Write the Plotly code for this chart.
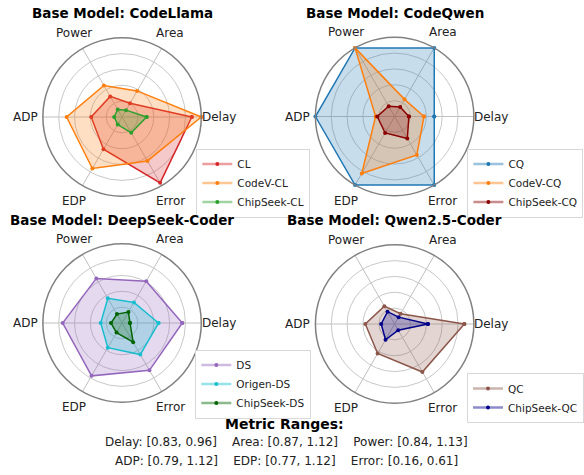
import math
import plotly.graph_objects as go

metrics = ["Delay", "Area", "Power", "ADP", "EDP", "Error"]
angles = [0, 60, 120, 180, 240, 300]

# Panel 1: CodeLlama
cl = [0.88, 0.20, 0.30, 0.39, 0.47, 0.96]
codev_cl = [1.00, 0.38, 0.46, 0.70, 0.75, 0.64]
chipseek_cl = [0.31, 0.10, 0.11, 0.10, 0.11, 0.23]
# Panel 2: CodeQwen
cq = [0.50, 1.00, 1.00, 1.00, 1.00, 1.00]
codev_cq = [0.37, 0.25, 1.00, 0.24, 0.83, 0.56]
chipseek_cq = [0.18, 0.14, 0.15, 0.22, 0.24, 0.32]
# Panel 3: DeepSeek-Coder
ds = [0.76, 0.61, 0.65, 0.75, 0.77, 0.69]
origen_ds = [0.46, 0.30, 0.36, 0.27, 0.36, 0.46]
chipseek_ds = [0.10, 0.16, 0.13, 0.14, 0.14, 0.28]
# Panel 4: Qwen2.5-Coder
qc = [0.88, 0.15, 0.26, 0.37, 0.43, 0.70]
chipseek_qc = [0.42, 0.10, 0.18, 0.17, 0.23, 0.09]

titles = ["Base Model: CodeLlama", "Base Model: CodeQwen",
          "Base Model: DeepSeek-Coder", "Base Model: Qwen2.5-Coder"]

range_lines = [
    ["Delay: [0.83, 0.96]", "Area: [0.87, 1.12]", "Power: [0.84, 1.13]"],
    ["ADP: [0.79, 1.12]", "EDP: [0.77, 1.12]", "Error: [0.16, 0.61]"],
]

panels = [
    [("CL", cl, "#d62728"), ("CodeV-CL", codev_cl, "#ff7f0e"), ("ChipSeek-CL", chipseek_cl, "#2ca02c")],
    [("CQ", cq, "#1f77b4"), ("CodeV-CQ", codev_cq, "#ff7f0e"), ("ChipSeek-CQ", chipseek_cq, "#8b0000")],
    [("DS", ds, "#9467bd"), ("Origen-DS", origen_ds, "#17becf"), ("ChipSeek-DS", chipseek_ds, "#006400")],
    [("QC", qc, "#8c564b"), ("ChipSeek-QC", chipseek_qc, "#00008b")],
]

W, H = 584, 475
centers = [(122.5, 117), (396, 116.5), (122.5, 323), (396, 324)]
R = 79.5
# legend left edge, vertical centre (pixels)
legend_pos = [(197, 183), (469, 183), (196, 384), (469, 398)]

FONT = "DejaVu Sans"

def rgba(hexc, a):
    hexc = hexc.lstrip("#")
    r, g, b = int(hexc[0:2], 16), int(hexc[2:4], 16), int(hexc[4:6], 16)
    return f"rgba({r},{g},{b},{a})"

fig = go.Figure()
layout = dict(width=W, height=H, margin=dict(l=0, r=0, t=0, b=0),
              paper_bgcolor="white", plot_bgcolor="white", showlegend=True)
annotations = []

for i, series in enumerate(panels):
    pid = "polar" if i == 0 else f"polar{i+1}"
    lid = "legend" if i == 0 else f"legend{i+1}"
    for name, vals, col in series:
        r = list(vals) + [vals[0]]
        th = angles + [angles[0]]
        fig.add_trace(go.Scatterpolar(r=r, theta=th, subplot=pid, mode="none",
                                      fill="toself", fillcolor=rgba(col, 0.25),
                                      showlegend=False, hoverinfo="skip"))
        fig.add_trace(go.Scatterpolar(r=r, theta=th, subplot=pid, mode="lines+markers",
                                      name=name, showlegend=False,
                                      line=dict(color=col, width=1.5),
                                      marker=dict(color=col, size=4)))
        # legend handle (matplotlib-like translucent line with dot)
        fig.add_trace(go.Scatterpolar(r=[None], theta=[None], subplot=pid,
                                      mode="lines+markers", name=name, legend=lid,
                                      line=dict(color=rgba(col, 0.45), width=2.5),
                                      marker=dict(color=col, size=4), hoverinfo="skip"))
    cx, cy = centers[i]
    layout[pid] = dict(
        domain=dict(x=[(cx - R) / W, (cx + R) / W], y=[1 - (cy + R) / H, 1 - (cy - R) / H]),
        bgcolor="white",
        radialaxis=dict(range=[0, 1], tickvals=[0.2, 0.4, 0.6, 0.8, 1.0], showticklabels=False,
                        ticks="", gridcolor="#c8c8c8", gridwidth=1, showline=False),
        angularaxis=dict(tickmode="array", tickvals=angles, showticklabels=False, ticks="",
                         rotation=0, direction="counterclockwise", thetaunit="degrees",
                         gridcolor="#c0c0c0", gridwidth=1, linecolor="#808080", linewidth=1.5,
                         showline=True),
    )
    lx, ly = legend_pos[i]
    layout[lid] = dict(x=lx / W, y=1 - ly / H, xanchor="left", yanchor="middle",
                       bgcolor="white", bordercolor="#d8d8d8", borderwidth=1,
                       font=dict(family=FONT, size=10.5, color="#222"),
                       tracegroupgap=0, itemwidth=30)
    for m, a in zip(metrics, angles):
        rad = math.radians(a)
        x = cx + 97 * math.cos(rad)
        y = cy - 97 * math.sin(rad)
        annotations.append(dict(x=x / W, y=1 - y / H, xref="paper", yref="paper", text=m,
                                showarrow=False, xanchor="center", yanchor="middle",
                                font=dict(family=FONT, size=12, color="#222")))
    ty = 13 if i < 2 else 220
    annotations.append(dict(x=cx / W, y=1 - ty / H, xref="paper", yref="paper",
                            text=f"<b>{titles[i]}</b>", showarrow=False,
                            xanchor="center", yanchor="middle",
                            font=dict(family=FONT, size=13.5, color="black")))

annotations.append(dict(x=285 / W, y=1 - 424 / H, xref="paper", yref="paper",
                        text="<b>Metric Ranges:</b>", showarrow=False, xanchor="center",
                        yanchor="middle", font=dict(family=FONT, size=14, color="black")))
for k, items in enumerate(range_lines):
    yy = 442 if k == 0 else 461
    annotations.append(dict(x=287 / W, y=1 - yy / H, xref="paper", yref="paper",
                            text="    ".join(items), showarrow=False, xanchor="center",
                            yanchor="middle", font=dict(family=FONT, size=12, color="#222")))

layout["annotations"] = annotations
fig.update_layout(**layout)
fig.write_html("out.html", config={"displayModeBar": False},
               post_script="document.body.style.margin='0';document.body.style.padding='0';"
                           "document.body.style.overflow='hidden';")
